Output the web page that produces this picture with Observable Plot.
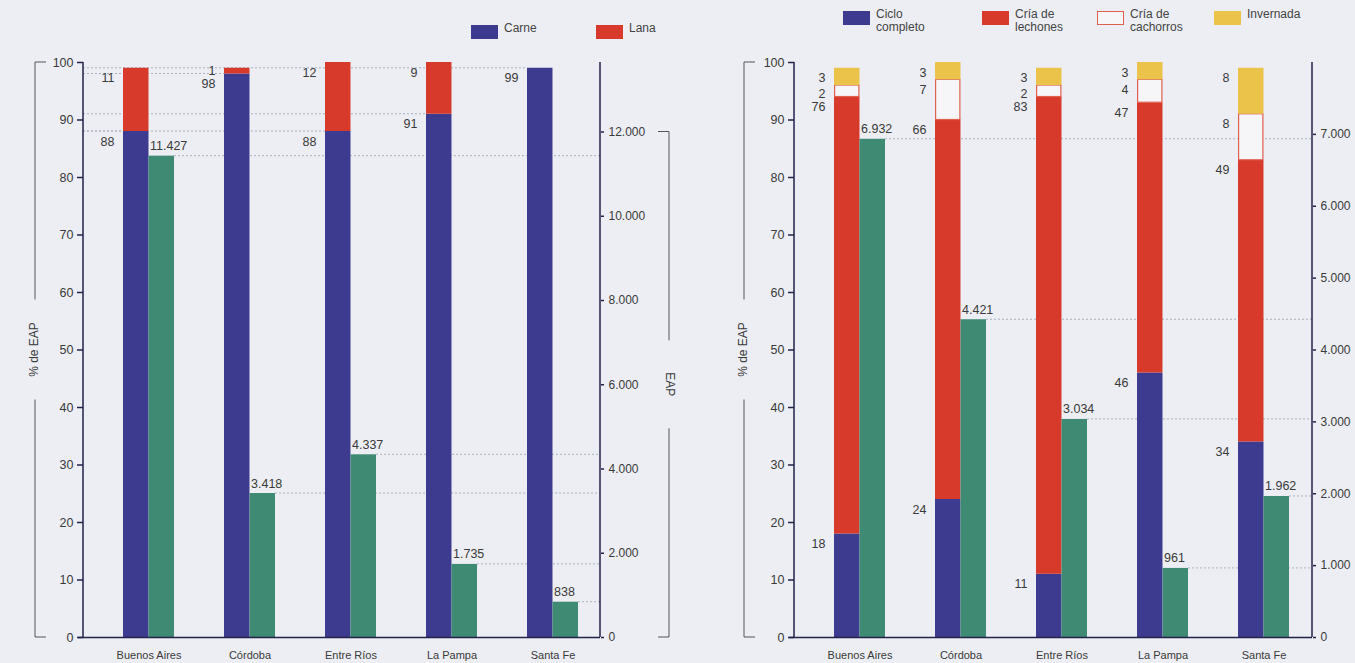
<!DOCTYPE html>
<html><head><meta charset="utf-8">
<script src="https://cdn.jsdelivr.net/npm/d3@7"></script>
<script src="https://cdn.jsdelivr.net/npm/@observablehq/plot@0.6"></script>
<style>
body{margin:0;background:#eceef4;font-family:"Liberation Sans",Arial,sans-serif;}
#wrap{position:relative;width:1355px;height:663px;overflow:hidden;}
.panel{position:absolute;top:0;}
.lg{position:absolute;font-size:12px;color:#444;line-height:13px;white-space:nowrap;}
.sw{position:absolute;width:27px;height:14px;box-sizing:border-box;}
</style></head><body><div id="wrap"></div>
<script>
// ---------- data ----------
const provincias = ["Buenos Aires", "Córdoba", "Entre Ríos", "La Pampa", "Santa Fe"];
const pctTicks = [0, 10, 20, 30, 40, 50, 60, 70, 80, 90, 100];

// left panel (bovinos)
const carne = [88, 98, 88, 91, 99];
const lana = [11, 1, 12, 9, 0];
const eapIzq = [11427, 3418, 4337, 1735, 838];
const eapTicksIzq = [0, 2000, 4000, 6000, 8000, 10000, 12000];
const eapMaxIzq = 13650;

// right panel (porcinos)
const cicloCompleto = [18, 24, 11, 46, 34];
const criaLechones = [76, 66, 83, 47, 49];
const criaCachorros = [2, 7, 2, 4, 8];
const invernada = [3, 3, 3, 3, 8];
const eapDer = [6932, 4421, 3034, 961, 1962];
const eapTicksDer = [0, 1000, 2000, 3000, 4000, 5000, 6000, 7000];
const eapMaxDer = 8000;

// ---------- styling ----------
const FONT = `"Liberation Sans",Arial,sans-serif`;
const C = {blue:"#3c3b8f", red:"#d73a2b", green:"#3f8a72", yellow:"#ecc34a", white:"#f6f5f7", redLine:"#e0604f", axis:"#22224a", text:"#3a3a3a", guide:"#aab0bf"};
const fmt = d3.formatLocale({decimal: ",", thousands: ".", grouping: [3], currency: ["$", ""]}).format(",");

function stackRows(series) {
  const rows = [];
  provincias.forEach((p, i) => {
    let acc = 0;
    series.forEach(s => {
      const v = s.values[i];
      rows.push({prov: p, serie: s.name, value: v, y1: acc, y2: acc + v});
      acc += v;
    });
  });
  return rows;
}

function labelRows(rows, offPx, gapPx, unitPx) {
  const out = [];
  for (const p of provincias) {
    const r = rows.filter(d => d.prov === p && d.value > 0).sort((a, b) => a.y2 - b.y2);
    let prev = -Infinity;
    for (const d of r) {
      let ly = d.y2 - offPx / unitPx;
      ly = Math.max(ly, prev + gapPx / unitPx);
      prev = ly;
      out.push({prov: p, ly, text: String(d.value)});
    }
  }
  return out;
}

function panel(cfg) {
  const {width, ml, mr, series, eap, eapMax, eapTicks} = cfg;
  const mt = 62, mb = 26, H = 663;
  const step = 101.25, pIn = 0.496;
  const r0 = ml + 39.5, r1 = r0 + step * (provincias.length - pIn);
  const bw = step * (1 - pIn);
  const unitPx = (H - mt - mb) / 100;
  const rows = stackRows(series);
  const eapRows = provincias.map((p, i) => ({prov: p, eap: eap[i], yp: eap[i] * 100 / eapMax}));
  const labs = labelRows(rows, 10, 13, unitPx);

  const marks = [];
  series.forEach(s => {
    marks.push(Plot.barY(rows.filter(d => d.serie === s.name && d.value > 0), {
      x: "prov", y1: "y1", y2: "y2", fill: s.fill, stroke: s.stroke || "none", strokeWidth: 1.2,
      insetRight: bw / 2 + (s.stroke ? 0.6 : 0), insetLeft: s.stroke ? 0.6 : 0
    }));
  });
  marks.push(Plot.barY(eapRows, {x: "prov", y: "yp", fill: C.green, insetLeft: bw / 2}));
  marks.push(Plot.text(labs, {x: "prov", y: "ly", text: "text", dx: -(bw / 2 + 9), textAnchor: "end", fill: C.text, fontSize: 12.5}));
  marks.push(Plot.text(eapRows, {x: "prov", y: "yp", text: d => fmt(d.eap), dx: 1, dy: -10, textAnchor: "start", fill: C.text, fontSize: 12.5}));
  marks.push(Plot.axisY(pctTicks, {anchor: "left", tickSize: 6, tickPadding: 4, label: null, fontSize: 12.5, stroke: C.axis, strokeWidth: 1.5, color: C.text}));
  marks.push(Plot.axisY(eapTicks.map(v => v * 100 / eapMax), {anchor: "right", tickFormat: v => fmt(Math.round(v * eapMax / 1000) * 10), tickSize: 3, tickPadding: 5, label: null, fontSize: 12, stroke: C.axis, strokeWidth: 1.5}));
  marks.push(Plot.axisX({tickSize: 0, tickPadding: 14, label: null, fontSize: 11}));
  marks.push(Plot.ruleY([0], {stroke: C.axis, strokeWidth: 1.5, insetLeft: -5}));

  const plot = Plot.plot({
    width, height: H, marginTop: mt, marginBottom: mb, marginLeft: ml, marginRight: mr,
    style: {background: "transparent", fontFamily: FONT, fontSize: "12px", color: C.text},
    x: {type: "band", domain: provincias, range: [r0, r1], paddingInner: pIn, paddingOuter: 0, axis: null},
    y: {domain: [0, 100], axis: null},
    marks
  });

  // decorations using the plot's own scales
  const svg = d3.select(plot);
  const sx = plot.scale("x"), sy = plot.scale("y");
  const xR = width - mr;
  const guides = svg.insert("g", "g").attr("stroke", C.guide).attr("stroke-dasharray", "2,2").attr("stroke-width", 1);
  eapRows.forEach(d => {
    const x0 = sx.apply(d.prov) + bw;
    guides.append("line").attr("x1", x0).attr("x2", xR).attr("y1", sy.apply(d.yp)).attr("y2", sy.apply(d.yp));
  });
  if (cfg.pctGuides) {
    const first = series[0].name;
    rows.filter(d => d.serie === first).forEach(d => {
      guides.append("line").attr("x1", ml).attr("x2", sx.apply(d.prov)).attr("y1", sy.apply(d.y2)).attr("y2", sy.apply(d.y2));
    });
  }
  // axis lines
  const ax = svg.append("g").attr("stroke", C.axis).attr("stroke-width", 1.5);
  ax.append("line").attr("x1", ml).attr("x2", ml).attr("y1", sy.apply(100)).attr("y2", sy.apply(0));
  ax.append("line").attr("x1", xR).attr("x2", xR).attr("y1", sy.apply(100)).attr("y2", sy.apply(0));

  // brackets with titles
  function bracket(x, yTop, yBot, dir, text, rot, halfGap) {
    const g = svg.append("g").attr("stroke", "#555").attr("stroke-width", 1).attr("fill", "none");
    const yc = (yTop + yBot) / 2;
    g.append("path").attr("d", `M${x + dir * 11},${yTop}H${x}V${yc - halfGap}M${x},${yc + halfGap}V${yBot}H${x + dir * 11}`);
    svg.append("text").attr("transform", `translate(${x},${yc}) rotate(${rot})`)
      .attr("text-anchor", "middle").attr("dominant-baseline", "middle")
      .attr("fill", C.text).attr("font-size", 12).attr("font-family", FONT).text(text);
  }
  bracket(cfg.leftBracketX, sy.apply(100), sy.apply(0), 1, "% de EAP", -90, 50);
  if (cfg.rightBracketX) {
    bracket(cfg.rightBracketX, sy.apply(eapTicks[eapTicks.length - 1] * 100 / eapMax), sy.apply(0), -1, "EAP", 90, 44);
  }
  return plot;
}

const wrap = document.getElementById("wrap");

const left = panel({
  width: 700, ml: 83, mr: 100,
  series: [
    {name: "Carne", values: carne, fill: C.blue},
    {name: "Lana", values: lana, fill: C.red}
  ],
  eap: eapIzq, eapMax: eapMaxIzq, eapTicks: eapTicksIzq,
  leftBracketX: 35, rightBracketX: 669, pctGuides: true
});
left.classList.add("panel"); left.style.left = "0px";
wrap.appendChild(left);

const right = panel({
  width: 655, ml: 94, mr: 43,
  series: [
    {name: "Ciclo completo", values: cicloCompleto, fill: C.blue},
    {name: "Cría de lechones", values: criaLechones, fill: C.red},
    {name: "Cría de cachorros", values: criaCachorros, fill: C.white, stroke: C.redLine},
    {name: "Invernada", values: invernada, fill: C.yellow}
  ],
  eap: eapDer, eapMax: eapMaxDer, eapTicks: eapTicksDer,
  leftBracketX: 44, rightBracketX: null, pctGuides: false
});
right.classList.add("panel"); right.style.left = "700px";
wrap.appendChild(right);

// legends
const legendItems = [
  {x: 471, y: 25, label: "Carne", fill: C.blue},
  {x: 596, y: 25, label: "Lana", fill: C.red},
  {x: 843, y: 11, label: "Ciclo<br>completo", fill: C.blue},
  {x: 982, y: 11, label: "Cría de<br>lechones", fill: C.red},
  {x: 1097, y: 11, label: "Cría de<br>cachorros", fill: C.white, stroke: C.redLine},
  {x: 1214, y: 11, label: "Invernada", fill: C.yellow}
];
legendItems.forEach(it => {
  const sw = document.createElement("div");
  sw.className = "sw";
  sw.style.left = it.x + "px"; sw.style.top = it.y + "px";
  sw.style.background = it.fill;
  if (it.stroke) sw.style.border = "1px solid " + it.stroke;
  wrap.appendChild(sw);
  const t = document.createElement("div");
  t.className = "lg";
  t.style.left = (it.x + 33) + "px"; t.style.top = (it.y - 3) + "px";
  t.innerHTML = it.label;
  wrap.appendChild(t);
});
</script>
</body></html>
